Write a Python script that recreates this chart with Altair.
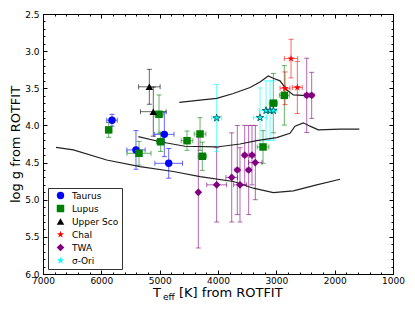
import altair as alt
import pandas as pd

# ---------------- data ----------------
groups = ["Taurus", "Lupus", "Upper Sco", "ChaI", "TWA", "σ-Ori"]
colors = ["#0000ff", "#008000", "#000000", "#ff0000", "#800080", "#00ffff"]

taurus_T = [5817, 5406, 4920, 4845]
taurus_g = [3.93, 4.33, 4.12, 4.51]
taurus_xe = [90, 157, 166, 237]
taurus_ye = [0.08, 0.26, 0.30, 0.20]

lupus_T = [5874, 5354, 4983, 5011, 4531, 4308, 4269, 3228, 3051, 2863]
lupus_g = [4.06, 4.375, 4.22, 3.85, 4.205, 4.115, 4.415, 4.29, 3.70, 3.595]
lupus_xe = [50, 206, 70, 70, 100, 100, 70, 100, 70, 85]
lupus_ye = [0.10, 0.16, 0.13, 0.26, 0.13, 0.22, 0.19, 0.22, 0.40, 0.40]

usco_T = [5177, 5109]
usco_g = [3.48, 3.815]
usco_xe = [185, 220]
usco_ye = [0.235, 0.33]

chai_T = [2748, 2851, 2640]
chai_g = [3.10, 3.50, 3.49]
chai_xe = [115, 85, 85]
chai_ye = [0.26, 0.22, 0.35]

twa_T = [4337, 4023, 3765, 3669, 3623, 3542, 3474, 3417, 3360, 2479, 2394]
twa_g = [4.90, 4.80, 4.70, 4.60, 4.80, 4.40, 4.60, 4.40, 4.50, 3.595, 3.595]
twa_xe = [20, 170, 100, 40, 110, 40, 40, 40, 115, 40, 40]
twa_ye = [0.75, 0.50, 0.60, 0.60, 0.50, 0.40, 0.60, 0.40, 0.50, 0.50, 0.31]

sori_T = [4023, 3280, 3177, 3108, 3051]
sori_g = [3.90, 3.895, 3.80, 3.80, 3.80]
sori_xe = [85, 115, 115, 60, 60]
sori_ye = [0.45, 0.40, 0.40, 0.40, 0.40]

# isochrones
iso1_T = [4663, 4308, 4022, 3737, 3451, 3280, 3138, 3052, 2937, 2822, 2709, 2479, 2388]
iso1_g = [3.69, 3.66, 3.635, 3.57, 3.49, 3.415, 3.335, 3.365, 3.40, 3.52, 3.59, 3.60, 3.605]
iso2_T = [5366, 4994, 4566, 4022, 3623, 3337, 2994, 2766, 2680, 2537, 2423, 2280, 1908, 1577]
iso2_g = [4.15, 4.22, 4.28, 4.29, 4.25, 4.205, 4.165, 4.105, 4.01, 3.965, 4.01, 4.06, 4.05, 4.05]
iso3_T = [6777, 6480, 5908, 5337, 4766, 4308, 3737, 3394, 3052, 2709, 2308, 1908]
iso3_g = [4.295, 4.33, 4.465, 4.555, 4.62, 4.69, 4.755, 4.845, 4.905, 4.88, 4.80, 4.725]

x_major = [1000, 2000, 3000, 4000, 5000, 6000, 7000]
x_minor = list(range(1000, 7001, 200))
y_major = [2.5, 3.0, 3.5, 4.0, 4.5, 5.0, 5.5, 6.0]
y_minor = [round(2.5 + 0.1 * i, 1) for i in range(36)]

# ---------------- tables ----------------
STAR = ("M0,-1L0.2245,-0.309L0.951,-0.309L0.363,0.118L0.588,0.809L0,0.382"
        "L-0.588,0.809L-0.363,0.118L-0.951,-0.309L-0.2245,-0.309Z")
shapes = ["circle", "square", "triangle-up", STAR, "diamond", STAR]
sizes = [55, 60, 60, 110, 80, 45]

rows = []
for name, T, g, xe, ye in [
    ("Taurus", taurus_T, taurus_g, taurus_xe, taurus_ye),
    ("Lupus", lupus_T, lupus_g, lupus_xe, lupus_ye),
    ("Upper Sco", usco_T, usco_g, usco_xe, usco_ye),
    ("ChaI", chai_T, chai_g, chai_xe, chai_ye),
    ("TWA", twa_T, twa_g, twa_xe, twa_ye),
    ("σ-Ori", sori_T, sori_g, sori_xe, sori_ye),
]:
    for t, gg, a, b in zip(T, g, xe, ye):
        rows.append(dict(group=name, T=t, logg=gg, xlo=t - a, xhi=t + a,
                         ylo=gg - b, yhi=gg + b))
df = pd.DataFrame(rows)

lrows = []
for k, (T, g) in enumerate([(iso1_T, iso1_g), (iso2_T, iso2_g), (iso3_T, iso3_g)]):
    for i, (t, gg) in enumerate(zip(T, g)):
        lrows.append(dict(iso=k, idx=i, T=t, logg=gg))
ldf = pd.DataFrame(lrows)

# ---------------- scales / axes ----------------
xs = alt.Scale(domain=[1000, 7000], reverse=True, nice=False, zero=False)
ys = alt.Scale(domain=[2.5, 6.0], reverse=True, nice=False, zero=False)
cscale = alt.Scale(domain=groups, range=colors)
sscale = alt.Scale(domain=groups, range=shapes)
zscale = alt.Scale(domain=groups, range=sizes)

FONT = "DejaVu Sans"


def ax(orient, vals, size, labels=False, fmt=None, title=None, pad=6):
    kw = dict(orient=orient, values=vals, tickSize={"expr": str(-size)},
              domain=False, grid=False, labels=labels, tickColor="#000",
              tickWidth=1)
    if title:
        kw.update(title=title, titleFont=FONT, titleFontSize=13,
                  titleFontWeight="normal", titleColor="#000", titlePadding=2)
    else:
        kw.update(title=None)
    if labels:
        kw.update(labelFont=FONT, labelFontSize=9, labelColor="#000",
                  labelPadding=pad, labelFlush=False, labelOverlap=False,
                  labelBound=False, format=fmt)
    return alt.Axis(**kw)


ax_b_maj = ax("bottom", x_major, 4, labels=True, fmt="d", pad=6)
ax_b_min = ax("bottom", x_minor, 2)
ax_t_maj = ax("top", x_major, 4)
ax_t_min = ax("top", x_minor, 2)
ax_l_maj = ax("left", y_major, 4, labels=True, fmt=".1f",
              title="log g from ROTFIT", pad=8)
ax_l_min = ax("left", y_minor, 2)
ax_r_maj = ax("right", y_major, 4)
ax_r_min = ax("right", y_minor, 2)

leg = alt.Legend(title=None, orient="bottom-left", offset=5, strokeColor="#333333",
                 fillColor="#ffffff", padding=3, labelFont=FONT, labelFontSize=9,
                 labelColor="#000", symbolSize=50, rowPadding=3, labelOffset=7,
                 symbolOffset=5, cornerRadius=0, symbolStrokeWidth=0,
                 symbolOpacity=1)

col = alt.Color("group:N", scale=cscale, legend=leg)

base = alt.Chart(df)

errx = base.mark_rule(strokeWidth=1, opacity=0.6).encode(
    x=alt.X("xlo:Q", scale=xs, axis=ax_b_maj), x2="xhi:Q",
    y=alt.Y("logg:Q", scale=ys, axis=ax_l_maj),
    color=col)

erry = base.mark_rule(strokeWidth=1, opacity=0.6).encode(
    x=alt.X("T:Q", scale=xs, axis=ax_b_min),
    y=alt.Y("ylo:Q", scale=ys, axis=ax_l_min), y2="yhi:Q",
    color=col)

capy = base.transform_fold(["ylo", "yhi"], as_=["k", "v"]).mark_tick(
    orient="horizontal", size=5, thickness=1, opacity=0.6).encode(
    x=alt.X("T:Q", scale=xs, axis=ax_t_maj),
    y=alt.Y("v:Q", scale=ys, axis=ax_r_maj),
    color=col)

capx = base.transform_fold(["xlo", "xhi"], as_=["k", "v"]).mark_tick(
    orient="vertical", size=5, thickness=1, opacity=0.6).encode(
    x=alt.X("v:Q", scale=xs, axis=ax_t_min),
    y=alt.Y("logg:Q", scale=ys, axis=ax_r_min),
    color=col)

lines = alt.Chart(ldf).mark_line(color="#222222", strokeWidth=1.2).encode(
    x=alt.X("T:Q", scale=xs, axis=None),
    y=alt.Y("logg:Q", scale=ys, axis=None),
    detail="iso:N", order="idx:Q")

points = base.mark_point(filled=True, opacity=1).encode(
    x=alt.X("T:Q", scale=xs, axis=None),
    y=alt.Y("logg:Q", scale=ys, axis=None),
    color=col,
    shape=alt.Shape("group:N", scale=sscale, legend=leg),
    size=alt.Size("group:N", scale=zscale, legend=None),
    stroke=alt.condition(alt.datum.group == "σ-Ori", alt.value("#004c4c"),
                         alt.value("transparent")),
    strokeWidth=alt.value(0.8))

one = pd.DataFrame({"a": [0]})
t1 = alt.Chart(one).mark_text(text="T", font=FONT, fontSize=13, align="left",
                              baseline="alphabetic", color="#000").encode(
    x=alt.value(110), y=alt.value(283))
t2 = alt.Chart(one).mark_text(text="eff", font=FONT, fontSize=9, align="left",
                              baseline="alphabetic", color="#000").encode(
    x=alt.value(120), y=alt.value(286))
t3 = alt.Chart(one).mark_text(text="[K] from ROTFIT", font=FONT, fontSize=13,
                              align="left", baseline="alphabetic", color="#000").encode(
    x=alt.value(136), y=alt.value(283))

chart = alt.layer(errx, erry, capy, capx, lines, points, t1, t2, t3).resolve_scale(
    x="shared", y="shared").resolve_axis(x="independent", y="independent").properties(
    width=350, height=260,
    autosize=alt.AutoSizeParams(type="none"),
    padding={"left": 35, "top": 6, "right": 14, "bottom": 32},
    background="#ffffff",
).configure_view(stroke="#000000", strokeWidth=1)

chart.save("out.html", embed_options={"renderer": "svg", "actions": False})
